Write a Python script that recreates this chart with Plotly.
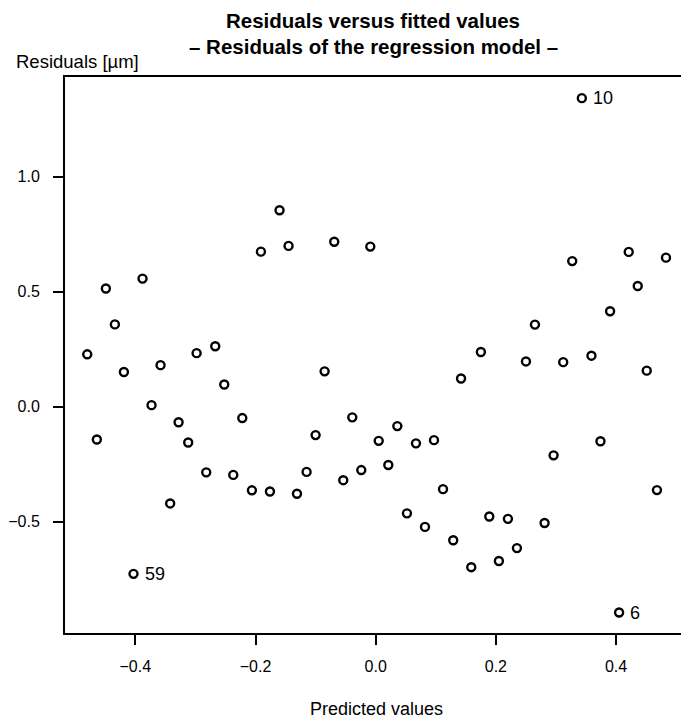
import plotly.graph_objects as go

# Fitted (predicted) values and residuals
predicted = [-0.480, -0.464, -0.449, -0.434, -0.419, -0.403, -0.388, -0.373, -0.358, -0.342,
             -0.328, -0.312, -0.298, -0.282, -0.267, -0.252, -0.237, -0.222, -0.206, -0.191,
             -0.176, -0.160, -0.145, -0.131, -0.115, -0.100, -0.085, -0.069, -0.054, -0.039,
             -0.024, -0.009, 0.005, 0.021, 0.036, 0.052, 0.067, 0.082, 0.097, 0.112,
             0.129, 0.142, 0.159, 0.175, 0.189, 0.205, 0.220, 0.235, 0.250, 0.265,
             0.281, 0.296, 0.312, 0.327, 0.343, 0.359, 0.374, 0.390, 0.405, 0.421,
             0.436, 0.451, 0.468, 0.483]
residuals = [0.228, -0.142, 0.514, 0.358, 0.151, -0.726, 0.557, 0.007, 0.181, -0.420,
             -0.067, -0.155, 0.233, -0.285, 0.263, 0.097, -0.296, -0.049, -0.363, 0.674,
             -0.368, 0.854, 0.699, -0.378, -0.283, -0.123, 0.154, 0.717, -0.319, -0.046,
             -0.275, 0.696, -0.148, -0.253, -0.084, -0.463, -0.159, -0.522, -0.145, -0.358,
             -0.580, 0.123, -0.697, 0.238, -0.477, -0.670, -0.487, -0.614, 0.197, 0.357,
             -0.505, -0.211, 0.194, 0.633, 1.341, 0.222, -0.150, 0.415, -0.894, 0.673,
             0.525, 0.157, -0.362, 0.648]
# Labelled observations: (index into the arrays, label)
labelled = [(5, "59"), (54, "10"), (58, "6")]

x_ticks = [-0.4, -0.2, 0.0, 0.2, 0.4]
y_ticks = [-0.5, 0.0, 0.5, 1.0]

FONT = "Liberation Sans, Arial, Helvetica, sans-serif"

fig = go.Figure()
fig.add_trace(go.Scatter(
    x=predicted, y=residuals, mode="markers",
    marker=dict(symbol="circle-open", size=8, color="black", line=dict(width=2.4, color="black")),
    showlegend=False, cliponaxis=False,
))

annotations = [
    dict(text="<b>Residuals versus fitted values</b>", xref="paper", yref="paper",
         x=0.5, y=1.1025, xanchor="center", yanchor="middle", showarrow=False,
         font=dict(family=FONT, size=20.5, color="black")),
    dict(text="<b>– Residuals of the regression model –</b>", xref="paper", yref="paper",
         x=0.5, y=1.054, xanchor="center", yanchor="middle", showarrow=False,
         font=dict(family=FONT, size=20.5, color="black")),
    dict(text="Residuals [µm]", xref="paper", yref="paper",
         x=-0.083, y=1.027, xanchor="left", yanchor="middle", showarrow=False,
         font=dict(family=FONT, size=18.5, color="black")),
    dict(text="Predicted values", xref="paper", yref="paper",
         x=0.505, y=-0.1375, xanchor="center", yanchor="middle", showarrow=False,
         font=dict(family=FONT, size=18, color="black")),
]
for i, lab in labelled:
    annotations.append(dict(text=lab, x=predicted[i], y=residuals[i], xref="x", yref="y",
                            xanchor="left", yanchor="middle", xshift=9, showarrow=False,
                            font=dict(family=FONT, size=18, color="black")))

fig.update_layout(
    width=681, height=722,
    margin=dict(l=65, r=0, t=77, b=89),
    paper_bgcolor="white", plot_bgcolor="white",
    font=dict(family=FONT, size=16, color="black"),
    xaxis=dict(range=[-0.517, 0.508], tickvals=x_ticks, tickformat=".1f",
               showgrid=False, zeroline=False, showline=True, linecolor="black", linewidth=2,
               mirror=True, ticks="outside", ticklen=10, tickwidth=2, tickcolor="black",
               ticklabelstandoff=8),
    yaxis=dict(range=[-0.983, 1.433], tickvals=y_ticks, tickformat=".1f",
               showgrid=False, zeroline=False, showline=True, linecolor="black", linewidth=2,
               mirror=False, ticks="outside", ticklen=10, tickwidth=2, tickcolor="black",
               ticklabelstandoff=10),
    annotations=annotations,
)

fig.write_html("out.html")
